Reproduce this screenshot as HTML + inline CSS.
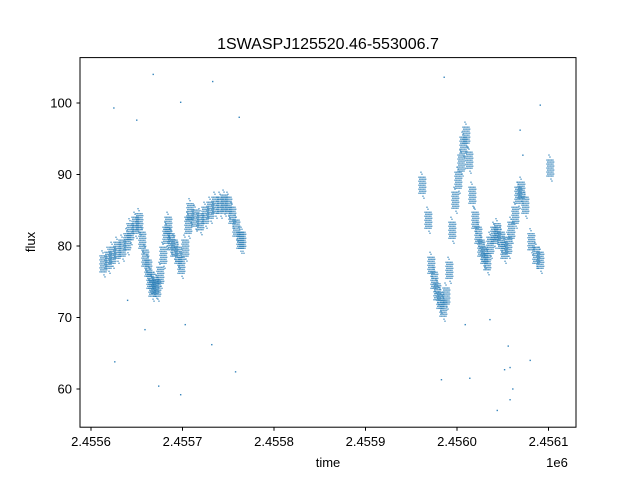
<!DOCTYPE html>
<html><head><meta charset="utf-8"><style>
body{margin:0;background:#fff;}
svg{display:block;font-family:"Liberation Sans","DejaVu Sans",sans-serif;}
</style></head><body>
<svg id="chart" width="640" height="480">
<rect width="640" height="480" fill="#fff"/>
<text x="328" y="49" font-size="16" text-anchor="middle">1SWASPJ125520.46-553006.7</text>
<g id="marks"></g>
<rect x="80" y="57.6" width="496" height="369.6" fill="none" stroke="#000" stroke-width="1"/>
<g id="xaxis"></g>
<g id="yaxis"></g>
<text x="328" y="467" font-size="13" text-anchor="middle">time</text>
<text x="557" y="467" font-size="13" text-anchor="middle">1e6</text>
<text transform="translate(35,242) rotate(-90)" font-size="13" text-anchor="middle">flux</text>
</svg>
<script>
// time in days relative to JD 2455600
const bandTimes = [13.1,18.6,23,28.4,33.9,39.3,42.6,48.1,52.5,55.7,59,62.3,64.5,66.7,69.9,72.1,75.4,78.7,82,84.2,87.4,90.7,95.1,98.4,102.7,106,108.2,113.7,119.1,124.6,130.1,135.5,141,145.4,149.7,154.1,158.5,162.8,165,
361.7,368.3,371.6,374.9,378.1,381.4,384.7,388,391.3,394.5,397.8,401.1,404.4,406.6,409.8,413.1,416.4,419.7,423,426.2,429.5,432.8,436.1,440.4,443.7,448.1,451.4,455.7,459,463.4,466.7,470,474.3,480.9,486.3,490.7,501.6];
const bandFlux = [77.5,78.0,78.7,79.4,79.7,80.6,82.0,82.9,83.4,80.8,78.3,76.9,75.2,74.1,74.5,74.1,75.9,78.7,81.5,82.9,80.6,79.7,78.7,77.3,79.7,82.9,84.8,83.9,83.4,84.3,85.0,85.7,85.7,86.0,85.7,84.3,82.5,80.8,80.8,
88.5,83.6,77.3,75.2,73.6,72.4,71.3,73.0,76.6,82.2,86.4,89.2,91.6,94.1,95.5,92.0,87.1,83.6,81.5,79.7,78.7,77.8,80.1,81.5,82.0,80.8,79.4,80.1,82.2,84.3,87.1,87.8,85.7,80.6,78.7,78.0,90.9];
const outlierTimes = [25,68,133,162,50,98,26,74,98,132,158,59,103,40,386,469,444,458,414,383,452,480,436,491,409,472,456,458,461];
const outlierFlux = [99.3,104,103,98,97.6,100.1,63.8,60.4,59.2,66.2,62.4,68.3,69,72.4,103.6,96.2,57,58.5,61.5,61.3,62.7,64,69.7,99.7,69,92.7,66,63,60];
const xTicks = [0,100,200,300,400,500];
const xTickLabels = ["2.4556","2.4557","2.4558","2.4559","2.4560","2.4561"];
const yTicks = [60,70,80,90,100];
const yTickLabels = ["60","70","80","90","100"];

const NS="http://www.w3.org/2000/svg";
function xs(t){return 91+t*0.915;}
function ys(v){return 389-(v-60)*7.15;}
const marks=document.getElementById('marks');
function dot(x,y,op){
  const c=document.createElementNS(NS,'rect');
  c.setAttribute('x',(x-0.7).toFixed(2));c.setAttribute('y',(y-0.7).toFixed(2));
  c.setAttribute('width',1.4);c.setAttribute('height',1.4);
  c.setAttribute('fill','#1f77b4');c.setAttribute('opacity',op);
  
  
  marks.appendChild(c);
}
const offs=[];
for(let dx=-3;dx<=3;dx+=1.5){for(let dy=-8;dy<=8;dy+=2){offs.push([dx+((dy/2)%2?0.7:0),dy]);}}
offs.push([0,-11],[1,11],[-1,-13],[2,13]);
for(let i=0;i<bandTimes.length;i++){
  const x=xs(bandTimes[i]),y=ys(bandFlux[i]);
  for(const o of offs) dot(x+o[0],y+o[1],0.7);
}
for(let i=0;i<outlierTimes.length;i++) dot(xs(outlierTimes[i]),ys(outlierFlux[i]),0.9);

const xa=document.getElementById('xaxis');
xTicks.forEach((t,i)=>{
  const x=xs(t);
  const l=document.createElementNS(NS,'line');
  l.setAttribute('x1',x);l.setAttribute('x2',x);l.setAttribute('y1',427.2);l.setAttribute('y2',430.7);l.setAttribute('stroke','#000');
  
  
  xa.appendChild(l);
  const tx=document.createElementNS(NS,'text');
  tx.setAttribute('x',x);tx.setAttribute('y',446);tx.setAttribute('font-size','13');tx.setAttribute('text-anchor','middle');
  tx.textContent=xTickLabels[i];
  
  
  xa.appendChild(tx);
});
const ya=document.getElementById('yaxis');
yTicks.forEach((v,i)=>{
  const y=ys(v);
  const l=document.createElementNS(NS,'line');
  l.setAttribute('x1',76.5);l.setAttribute('x2',80);l.setAttribute('y1',y);l.setAttribute('y2',y);l.setAttribute('stroke','#000');
  
  
  ya.appendChild(l);
  const tx=document.createElementNS(NS,'text');
  tx.setAttribute('x',72);tx.setAttribute('y',y+4.5);tx.setAttribute('font-size','13');tx.setAttribute('text-anchor','end');
  tx.textContent=yTickLabels[i];
  
  
  ya.appendChild(tx);
});
</script>
</body></html>
